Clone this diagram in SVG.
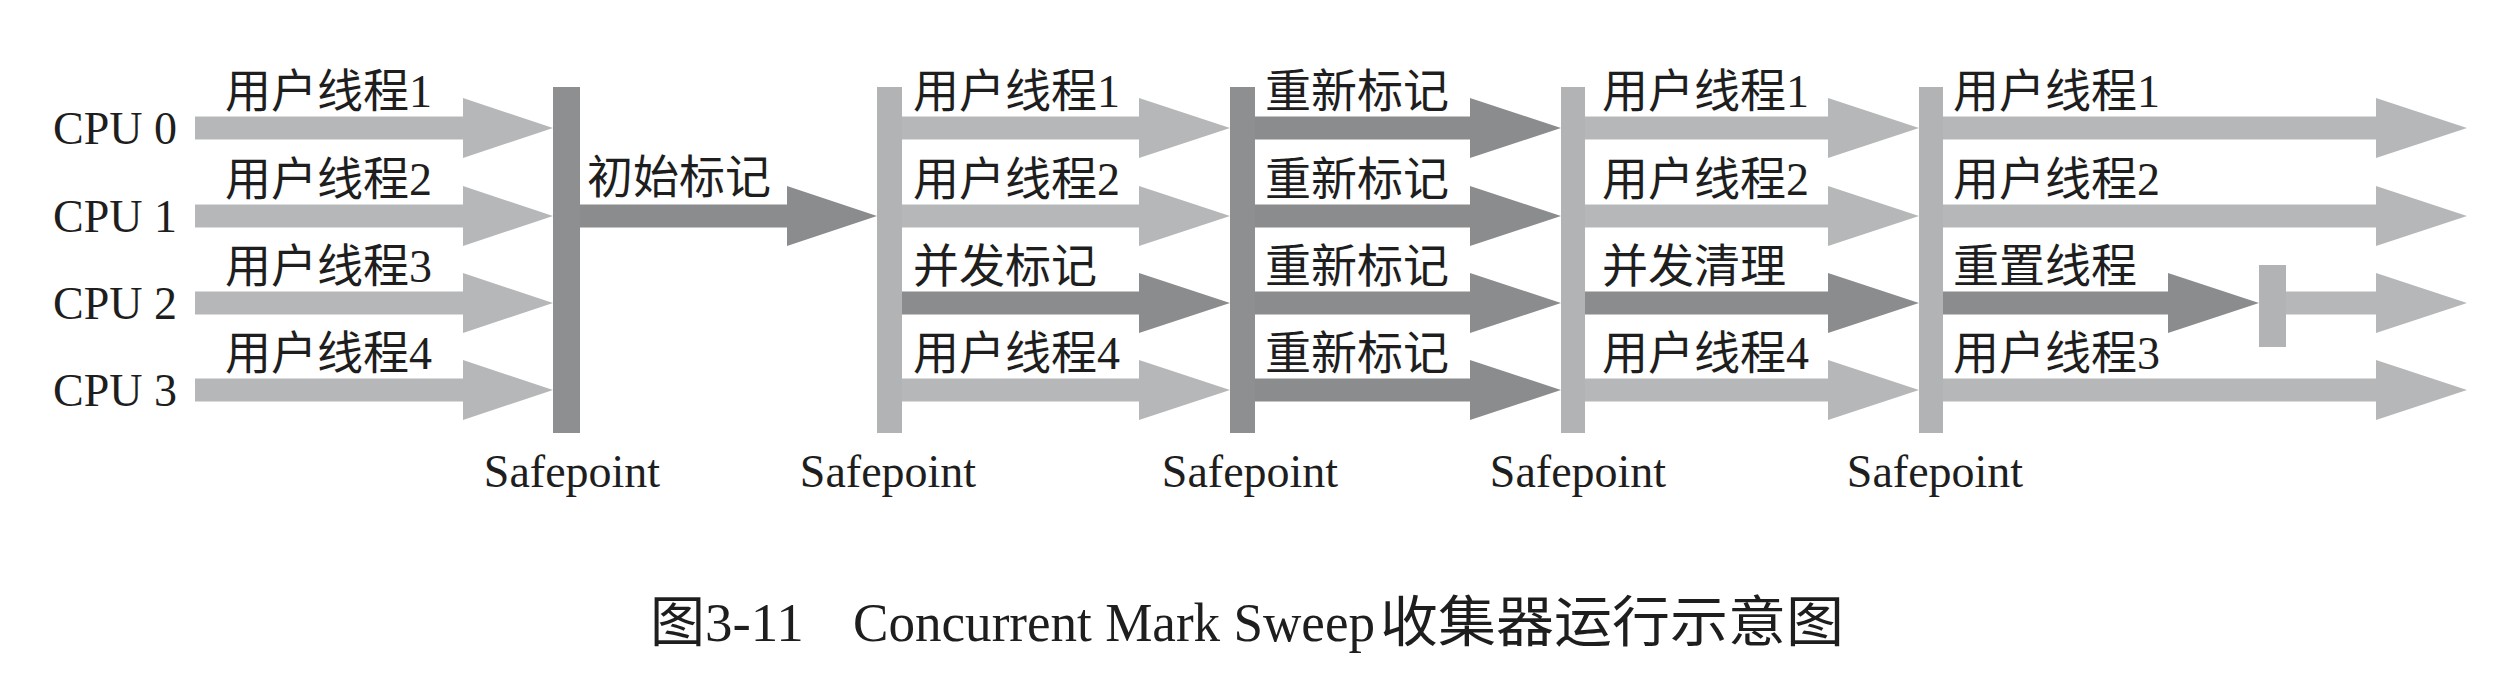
<svg xmlns="http://www.w3.org/2000/svg" width="2518" height="674" viewBox="0 0 2518 674">
<style>
.lt{fill:#b5b7b9}
.dk{fill:#8b8c8e}
.bl{fill:#b2b3b5}
.bd{fill:#8e8f91}
.t{font-family:"Liberation Serif","Noto Sans CJK SC",serif;fill:#1e1e1e}
.cpu{font-size:46px}
.lab{font-size:46px}
.sp{font-size:46px;text-anchor:middle}
.cap{font-size:55px}
</style>
<defs>
<path id="a" d="M0,-11.5H1V11.5H0Z"/>
</defs>
<rect width="2518" height="674" fill="#ffffff"/>

<g id="cpu-labels" class="t cpu">
<g id="cpu0"><text x="53" y="144">CPU 0</text></g>
<g id="cpu1"><text x="53" y="232">CPU 1</text></g>
<g id="cpu2"><text x="53" y="319">CPU 2</text></g>
<g id="cpu3"><text x="53" y="406">CPU 3</text></g>
</g>

<g id="connectors">
<!-- stage 1 -->
<path class="lt" d="M195,116.5H463V98L553,128L463,158V139.5H195Z"/>
<path class="lt" d="M195,204.5H463V186L553,216L463,246V227.5H195Z"/>
<path class="lt" d="M195,291.5H463V273L553,303L463,333V314.5H195Z"/>
<path class="lt" d="M195,378.5H463V360L553,390L463,420V401.5H195Z"/>
<!-- initial mark -->
<path class="dk" d="M580,204.5H787V186L877,216L787,246V227.5H580Z"/>
<!-- stage 2 -->
<path class="lt" d="M902,116.5H1139V98L1230,128L1139,158V139.5H902Z"/>
<path class="lt" d="M902,204.5H1139V186L1230,216L1139,246V227.5H902Z"/>
<path class="dk" d="M902,291.5H1139V273L1230,303L1139,333V314.5H902Z"/>
<path class="lt" d="M902,378.5H1139V360L1230,390L1139,420V401.5H902Z"/>
<!-- stage 3 -->
<path class="dk" d="M1255,116.5H1470V98L1561,128L1470,158V139.5H1255Z"/>
<path class="dk" d="M1255,204.5H1470V186L1561,216L1470,246V227.5H1255Z"/>
<path class="dk" d="M1255,291.5H1470V273L1561,303L1470,333V314.5H1255Z"/>
<path class="dk" d="M1255,378.5H1470V360L1561,390L1470,420V401.5H1255Z"/>
<!-- stage 4 -->
<path class="lt" d="M1585,116.5H1828V98L1919,128L1828,158V139.5H1585Z"/>
<path class="lt" d="M1585,204.5H1828V186L1919,216L1828,246V227.5H1585Z"/>
<path class="dk" d="M1585,291.5H1828V273L1919,303L1828,333V314.5H1585Z"/>
<path class="lt" d="M1585,378.5H1828V360L1919,390L1828,420V401.5H1585Z"/>
<!-- stage 5 -->
<path class="lt" d="M1943,116.5H2376V98L2467,128L2376,158V139.5H1943Z"/>
<path class="lt" d="M1943,204.5H2376V186L2467,216L2376,246V227.5H1943Z"/>
<path class="dk" d="M1943,291.5H2168V273L2259,303L2168,333V314.5H1943Z"/>
<path class="lt" d="M2286,291.5H2376V273L2467,303L2376,333V314.5H2286Z"/>
<path class="lt" d="M1943,378.5H2376V360L2467,390L2376,420V401.5H1943Z"/>
</g>

<g id="safepoint1"><rect class="bd" x="553" y="87" width="27" height="346"/><text class="t sp" x="572" y="487">Safepoint</text></g>
<g id="safepoint2"><rect class="bl" x="877" y="87" width="25" height="346"/><text class="t sp" x="888" y="487">Safepoint</text></g>
<g id="safepoint3"><rect class="bd" x="1230" y="87" width="25" height="346"/><text class="t sp" x="1250" y="487">Safepoint</text></g>
<g id="safepoint4"><rect class="bl" x="1561" y="87" width="24" height="346"/><text class="t sp" x="1578" y="487">Safepoint</text></g>
<g id="safepoint5"><rect class="bl" x="1919" y="87" width="24" height="346"/><text class="t sp" x="1935" y="487">Safepoint</text></g>
<g id="reset-barrier"><rect class="bl" x="2259" y="265" width="27" height="82"/></g>

<g id="stage1-labels" class="t lab">
<text x="225" y="107">用户线程1</text>
<text x="225" y="195">用户线程2</text>
<text x="225" y="282">用户线程3</text>
<text x="225" y="369">用户线程4</text>
</g>
<g id="initial-mark-label" class="t lab"><text x="587" y="193">初始标记</text></g>
<g id="stage2-labels" class="t lab">
<text x="913" y="107">用户线程1</text>
<text x="913" y="195">用户线程2</text>
<text x="913" y="282">并发标记</text>
<text x="913" y="369">用户线程4</text>
</g>
<g id="stage3-labels" class="t lab">
<text x="1265" y="107">重新标记</text>
<text x="1265" y="195">重新标记</text>
<text x="1265" y="282">重新标记</text>
<text x="1265" y="369">重新标记</text>
</g>
<g id="stage4-labels" class="t lab">
<text x="1602" y="107">用户线程1</text>
<text x="1602" y="195">用户线程2</text>
<text x="1602" y="282">并发清理</text>
<text x="1602" y="369">用户线程4</text>
</g>
<g id="stage5-labels" class="t lab">
<text x="1953" y="107">用户线程1</text>
<text x="1953" y="195">用户线程2</text>
<text x="1953" y="282">重置线程</text>
<text x="1953" y="369">用户线程3</text>
</g>

<g id="caption" class="t cap">
<text y="641"><tspan x="650">图3-11</tspan><tspan x="853" textLength="522" lengthAdjust="spacingAndGlyphs">Concurrent Mark Sweep</tspan><tspan x="1380" textLength="464" lengthAdjust="spacingAndGlyphs">收集器运行示意图</tspan></text>
</g>
</svg>
